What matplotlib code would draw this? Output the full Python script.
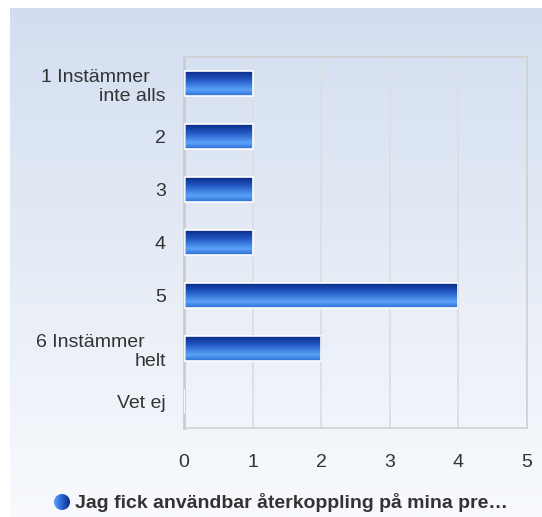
import numpy as np
import matplotlib
matplotlib.use("Agg")
import matplotlib.pyplot as plt
from matplotlib.colors import LinearSegmentedColormap
from matplotlib.patches import Circle

plt.rcParams['font.family'] = ['Liberation Sans', 'DejaVu Sans']

categories = ["1 Instämmer   \ninte alls", "2", "3", "4", "5", "6 Instämmer    \nhelt", "Vet ej"]
values = [1, 1, 1, 1, 4, 2, 0]
xticks = [0, 1, 2, 3, 4, 5]
legend_label = "Jag fick användbar återkoppling på mina pre…"

fig = plt.figure(figsize=(5.42, 5.17), dpi=100)

# background panel gradient
bg = fig.add_axes([0, 0, 1, 1], zorder=0)
bg.set_xlim(0, 542)
bg.set_ylim(517, 0)
bg.axis('off')
bg_cmap = LinearSegmentedColormap.from_list('bg', ['#d2def0', '#e6ecf6', '#f8fafd'])
grad = np.linspace(0, 1, 256).reshape(-1, 1)
bg.imshow(grad, cmap=bg_cmap, extent=[10, 542, 517, 8], aspect='auto', zorder=0)

ax = fig.add_axes([184 / 542, 89 / 517, 343 / 542, 371 / 517], zorder=1)
ax.patch.set_alpha(0)
y = np.arange(len(categories))
bars = ax.barh(y, values, height=0.46, facecolor='none', edgecolor='white', linewidth=1.2, zorder=3)

bar_cmap = LinearSegmentedColormap.from_list(
    'bar', [(0.0, '#0a2a86'), (0.35, '#2358c4'), (0.75, '#5aa3f8'), (1.0, '#2d6bd3')])
for rect in bars:
    w = rect.get_width()
    if w <= 0:
        continue
    y0 = rect.get_y()
    h = rect.get_height()
    im = ax.imshow(grad, cmap=bar_cmap, extent=[0, w, y0 + h, y0], aspect='auto', zorder=2)
    im.set_clip_path(rect)

ax.set_xlim(0, 5)
ax.set_ylim(len(categories) - 0.5, -0.5)
ax.set_aspect('auto')
ax.set_xticks(xticks)
ax.set_xticklabels([str(t) for t in xticks])
ax.set_yticks(y)
ax.set_yticklabels(categories, multialignment='right')
ax.tick_params(axis='both', length=0, labelsize=14, labelcolor='#333333')
ax.tick_params(axis='x', pad=19)
ax.tick_params(axis='y', pad=13)
ax.grid(axis='x', color='#dcdee2', linewidth=1.3, zorder=1)
ax.set_axisbelow(True)
for s in ['top', 'right', 'bottom']:
    ax.spines[s].set_color('#d0d0d0')
    ax.spines[s].set_linewidth(1.2)
ax.spines['left'].set_color('#cccccc')
ax.spines['left'].set_linewidth(2)

# legend marker with horizontal gradient
circ = Circle((62, 502), 8, facecolor='none', edgecolor='none', zorder=3)
bg.add_patch(circ)
leg_cmap = LinearSegmentedColormap.from_list('leg', ['#5aa3f8', '#2a62d0', '#0a2a86'])
hgrad = np.linspace(0, 1, 64).reshape(1, -1)
cim = bg.imshow(hgrad, cmap=leg_cmap, extent=[54, 70, 510, 494], aspect='auto', zorder=2)
cim.set_clip_path(circ)
bg.text(75, 502, legend_label, fontsize=14, fontweight='bold', color='#333333',
        va='center', ha='left', zorder=2)

fig.savefig('out.png', dpi=100)
